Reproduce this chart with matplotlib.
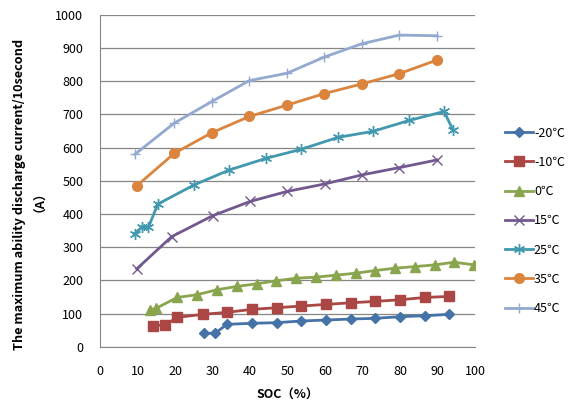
import numpy as np
import matplotlib.pyplot as plt

plt.rcParams['font.family'] = ['Noto Sans CJK SC', 'DejaVu Sans']

# Colors (Excel 2007 style)
c_m20 = '#4572A7'
c_m10 = '#AA4643'
c_0 = '#89A54E'
c_15 = '#71588F'
c_25 = '#4198AF'
c_35 = '#DB843D'
c_45 = '#93A9CF'

# Data
soc_m20 = [27.6, 30.7, 33.8, 40.4, 47.1, 53.6, 60.3, 66.9, 73.3, 80.0, 86.7, 93.1]
cur_m20 = [41, 41, 68, 71, 73, 78, 81, 84, 86, 91, 94, 98]

soc_m10 = [14.2, 17.3, 20.6, 27.4, 33.8, 40.4, 47.1, 53.6, 60.3, 66.9, 73.3, 80.0, 86.7, 93.1]
cur_m10 = [64, 66, 89, 98, 104, 113, 118, 123, 128, 133, 137, 142, 149, 152]

soc_0 = [13.2, 14.9, 20.6, 25.8, 31.1, 36.4, 41.8, 46.9, 52.3, 57.6, 62.8, 68.2, 73.3, 78.7,
         84.0, 89.2, 94.4, 99.7]
cur_0 = [111, 116, 149, 157, 172, 182, 190, 199, 207, 210, 216, 222, 230, 237,
         242, 247, 255, 247]

soc_15 = [9.8, 19.1, 30.0, 40.0, 49.8, 60.0, 69.8, 79.8, 89.8]
cur_15 = [235, 332, 395, 438, 468, 491, 518, 540, 563]

soc_25 = [9.2, 11.3, 12.9, 15.4, 25.1, 34.5, 44.3, 53.6, 63.4, 72.7, 82.4, 91.7, 94.0]
cur_25 = [340, 362, 360, 430, 488, 533, 568, 595, 631, 649, 682, 709, 654]

soc_35 = [9.8, 19.8, 29.8, 39.8, 49.8, 59.8, 69.8, 79.8, 89.8]
cur_35 = [485, 583, 645, 694, 728, 763, 792, 823, 864]

soc_45 = [9.3, 19.8, 29.8, 39.8, 49.8, 59.8, 69.8, 79.8, 89.8]
cur_45 = [580, 674, 739, 802, 824, 873, 913, 939, 937]

fig = plt.figure(figsize=(5.73, 4.12), dpi=100)
ax = fig.add_axes([0.1745, 0.158, 0.655, 0.806])

ax.plot(soc_m20, cur_m20, color=c_m20, linewidth=2, marker='D', markersize=5, label='-20\u2103')
ax.plot(soc_m10, cur_m10, color=c_m10, linewidth=2, marker='s', markersize=7, label='-10\u2103')
ax.plot(soc_0, cur_0, color=c_0, linewidth=2, marker='^', markersize=7, label='0\u2103')
ax.plot(soc_15, cur_15, color=c_15, linewidth=2, marker='x', markersize=7, label='15\u2103')
ax.plot(soc_25, cur_25, color=c_25, linewidth=2, marker=(6, 2, 0), markersize=8, label='25\u2103')
ax.plot(soc_35, cur_35, color=c_35, linewidth=2, marker='o', markersize=7, label='35\u2103')
ax.plot(soc_45, cur_45, color=c_45, linewidth=2, marker='+', markersize=7, label='45\u2103')

ax.set_xlim(0, 100)
ax.set_ylim(0, 1000)
ax.set_xticks(np.arange(0, 101, 10))
ax.set_yticks(np.arange(0, 1001, 100))
ax.xaxis.grid(False)
ax.yaxis.grid(True, color='#868686', linewidth=0.9)
ax.set_axisbelow(True)
for s in ['top', 'right']:
    ax.spines[s].set_visible(False)
ax.spines['left'].set_color('#868686')
ax.spines['bottom'].set_color('#868686')
ax.tick_params(axis='x', length=0, labelsize=9, pad=13)
ax.tick_params(axis='y', length=0, labelsize=9, pad=12)

ax.set_xlabel('SOC\uff08%\uff09', fontsize=9, fontweight='bold', labelpad=8)
ax.set_ylabel('The maximum ability discharge current/10second\n\uff08A\uff09',
              fontsize=9.2, fontweight='bold', linespacing=1.1)
ax.yaxis.set_label_coords(-0.16, 0.458)

fig.legend(loc='upper left', bbox_to_anchor=(0.862, 0.72), frameon=False,
           fontsize=9, labelspacing=1.3, handlelength=2.2, handletextpad=0.1)

fig.savefig('out.png', dpi=100)
